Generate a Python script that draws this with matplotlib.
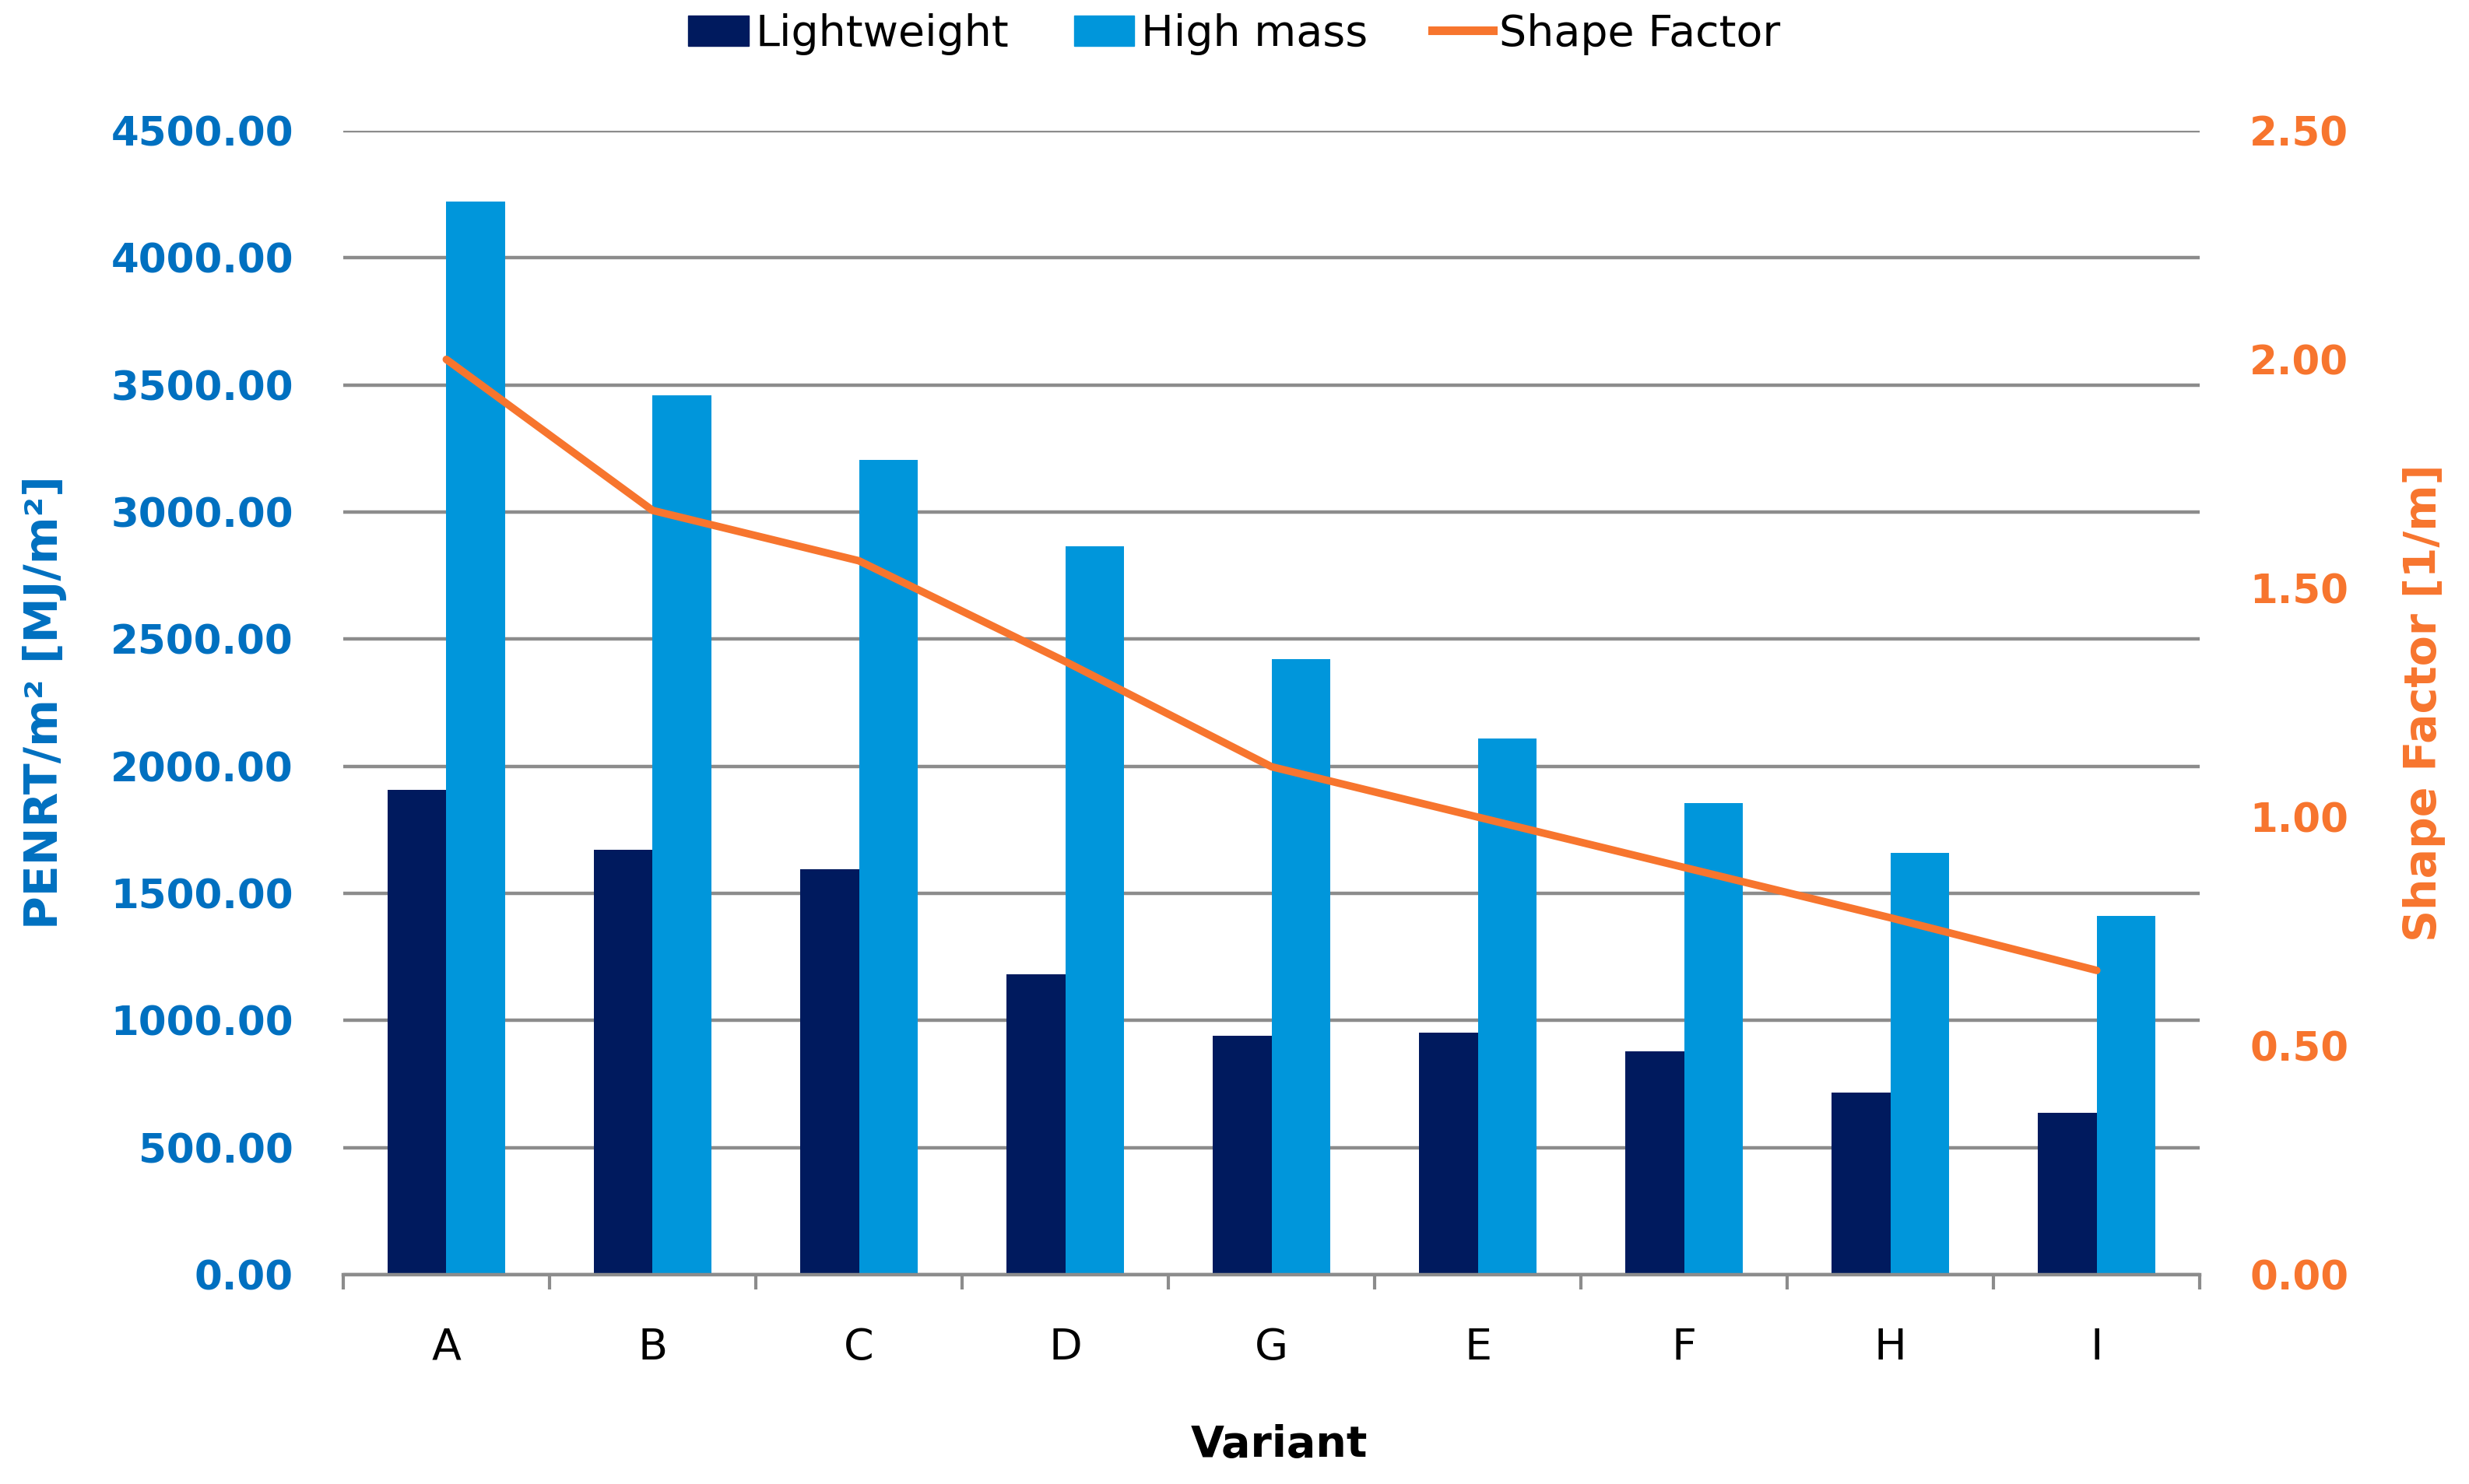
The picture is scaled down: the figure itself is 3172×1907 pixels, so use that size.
import matplotlib.pyplot as plt
import numpy as np
from matplotlib.patches import Patch
from matplotlib.lines import Line2D

variants = ['A', 'B', 'C', 'D', 'G', 'E', 'F', 'H', 'I']
lightweight = [1906, 1672, 1596, 1182, 941, 953, 879, 716, 637]
high_mass = [4222, 3460, 3205, 2866, 2420, 2110, 1856, 1658, 1411]
shape_factor = [2.00, 1.67, 1.56, 1.34, 1.11, 1.00, 0.89, 0.78, 0.665]

left_ticks = np.arange(0, 4501, 500)
right_ticks = np.arange(0, 2.51, 0.5)

c_lw = '#001A5E'
c_hm = '#0096DB'
c_sf = '#F7752E'
c_blue = '#0070C0'
c_grid = '#8C8C8C'

fig = plt.figure(figsize=(31.72, 19.07), dpi=100)
ax = fig.add_axes([0.139, 0.141, 0.752, 0.771])
ax2 = ax.twinx()

x = np.arange(len(variants))
w = 0.285
ax.bar(x - w / 2, lightweight, w, color=c_lw, zorder=2)
ax.bar(x + w / 2, high_mass, w, color=c_hm, zorder=2)
ax2.plot(x, shape_factor, color=c_sf, lw=7, solid_capstyle='round', zorder=3)

ax.set_xlim(-0.5, len(variants) - 0.5)
ax.set_ylim(0, 4500)
ax2.set_ylim(0, 2.5)
ax.set_yticks(left_ticks)
ax.set_yticklabels([f'{v:.2f}' for v in left_ticks])
ax2.set_yticks(right_ticks)
ax2.set_yticklabels([f'{v:.2f}' for v in right_ticks])
ax.yaxis.grid(True, color=c_grid, lw=3.2, zorder=0)
ax.set_axisbelow(True)

ax.set_xticks(x)
ax.set_xticklabels(variants)
ax.set_xticks(np.arange(-0.5, len(variants)), minor=True)
ax.tick_params(axis='x', which='major', length=0, pad=48, labelsize=40)
ax.tick_params(axis='x', which='minor', length=14, width=3, color=c_grid)
ax.tick_params(axis='y', length=0, pad=46, labelsize=37, labelcolor=c_blue)
ax2.tick_params(axis='y', length=0, pad=46, labelsize=37, labelcolor=c_sf)
for lab in ax.get_yticklabels() + ax2.get_yticklabels():
    lab.set_fontweight('bold')

for a in (ax, ax2):
    for s in ('top', 'left', 'right', 'bottom'):
        a.spines[s].set_visible(False)
ax.spines['bottom'].set_visible(True)
ax.spines['bottom'].set_color(c_grid)
ax.spines['bottom'].set_linewidth(3.2)

fig.text(0.018, 0.5265, 'PENRT/m² [MJ/m²]', rotation=90, ha='center', va='center',
         fontsize=42, fontweight='bold', color=c_blue)
fig.text(0.982, 0.5265, 'Shape Factor [1/m]', rotation=90, ha='center', va='center',
         fontsize=41, fontweight='bold', color=c_sf)
fig.text(0.518, 0.026, 'Variant', ha='center', va='center',
         fontsize=40, fontweight='bold', color='black')

handles = [Patch(color=c_lw, label='Lightweight'),
           Patch(color=c_hm, label='High mass'),
           Line2D([], [], color=c_sf, lw=8, label='Shape Factor')]
fig.legend(handles=handles, loc='center', bbox_to_anchor=(0.5, 0.977), ncol=3,
           frameon=False, fontsize=40, handlelength=1.4, handleheight=0.7,
           handletextpad=0.15, columnspacing=1.5)

fig.savefig('out.png', dpi=100)
